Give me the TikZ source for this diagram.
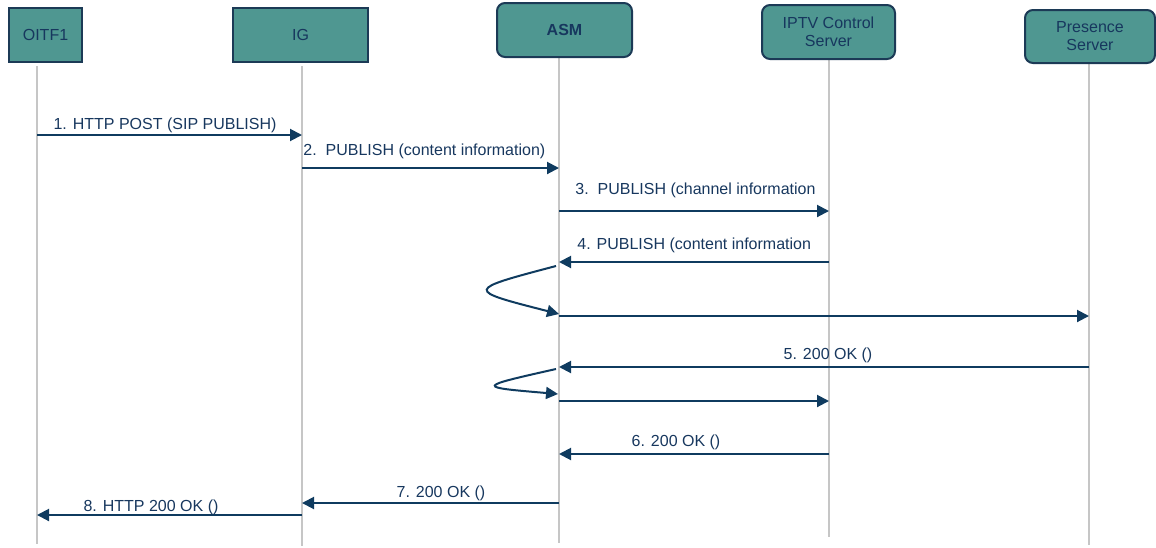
\documentclass[tikz,border=0pt]{standalone}
\usepackage{fontspec}
\setmainfont{Liberation Sans}
\usetikzlibrary{arrows.meta,calc}
\definecolor{boxfill}{HTML}{4F9791}
\definecolor{boxline}{HTML}{1C3A56}
\definecolor{txt}{HTML}{17375E}
\definecolor{arr}{HTML}{0F3B5F}
\definecolor{life}{HTML}{C6C6C6}
\begin{document}
\begin{tikzpicture}[x=0.5pt,y=-0.5pt,
 actor/.style={draw=boxline, line width=1pt, fill=boxfill, text=txt,
   font=\fontsize{8}{9}\selectfont, align=center, inner sep=0pt},
 ractor/.style={actor, rounded corners=4pt},
 lifeline/.style={draw=life, line width=0.7pt},
 msg/.style={draw=arr, line width=1pt, -{Triangle[length=6pt,width=6pt]}},
 lbl/.style={text=txt, font=\fontsize{8}{9}\selectfont, inner sep=0pt},
]
\useasboundingbox (0,0) rectangle (1156,547);

% lifelines
\coordinate (oT) at (37,66);   \coordinate (oB) at (37,544);
\coordinate (gT) at (302,66);  \coordinate (gB) at (302,546);
\coordinate (aT) at (559,58);  \coordinate (aB) at (559,543);
\coordinate (iT) at (829,55);  \coordinate (iB) at (829,537);
\coordinate (pT) at (1089,62); \coordinate (pB) at (1089,545);
\draw[lifeline] (oT) -- (oB);
\draw[lifeline] (gT) -- (gB);
\draw[lifeline] (aT) -- (aB);
\draw[lifeline] (iT) -- (iB);
\draw[lifeline] (pT) -- (pB);

% actors
\node[actor, minimum width=36.5pt, minimum height=27pt] (oitf) at (45.5,35) {OITF1};
\node[actor, minimum width=67.5pt, minimum height=27pt] (ig) at (300.5,35) {IG};
\node[ractor, minimum width=67.5pt, minimum height=27pt, font=\fontsize{8}{9}\selectfont\bfseries] (asm) at (564.5,30) {ASM};
\node[ractor, minimum width=66.5pt, minimum height=27pt] (iptv) at (828.5,32) {IPTV Control\\Server};
\node[ractor, minimum width=65pt, minimum height=26.5pt] (pres) at (1090,36.5) {Presence\\Server};

% message end points
\coordinate (m1a) at (37,135);  \coordinate (m1b) at (302,135);
\coordinate (m2a) at (302,168); \coordinate (m2b) at (559,168);
\coordinate (m3a) at (559,211); \coordinate (m3b) at (829,211);
\coordinate (m4a) at (829,262); \coordinate (m4b) at (559,262);
\coordinate (s1a) at (556,266); \coordinate (s1b) at (559,314);
\coordinate (m4c) at (559,316); \coordinate (m4d) at (1089,316);
\coordinate (m5a) at (1089,367); \coordinate (m5b) at (559,367);
\coordinate (s2a) at (556,369); \coordinate (s2b) at (558,394);
\coordinate (m5c) at (559,401); \coordinate (m5d) at (829,401);
\coordinate (m6a) at (829,454); \coordinate (m6b) at (559,454);
\coordinate (m7a) at (559,503); \coordinate (m7b) at (302,503);
\coordinate (m8a) at (302,515); \coordinate (m8b) at (37,515);

\draw[msg] (m1a) -- (m1b);
\draw[msg] (m2a) -- (m2b);
\draw[msg] (m3a) -- (m3b);
\draw[msg] (m4a) -- (m4b);
\draw[msg] (s1a) .. controls (465,290) .. (s1b);
\draw[msg] (m4c) -- (m4d);
\draw[msg] (m5a) -- (m5b);
\draw[msg] (s2a) .. controls (476,387) .. (s2b);
\draw[msg] (m5c) -- (m5d);
\draw[msg] (m6a) -- (m6b);
\draw[msg] (m7a) -- (m7b);
\draw[msg] (m8a) -- (m8b);

% labels
\node[lbl] (l1) at (165,125) {1. HTTP POST (SIP PUBLISH)};
\node[lbl, anchor=west] (l2) at (303,151) {2.\ \ PUBLISH (content information)};
\node[lbl, anchor=west] (l3) at (575,190) {3.\ \ PUBLISH (channel information};
\node[lbl, anchor=west] (l4) at (577,245) {4. PUBLISH (content information};
\node[lbl] (l5) at (828,355) {5. 200 OK ()};
\node[lbl] (l6) at (676,442) {6. 200 OK ()};
\node[lbl] (l7) at (441,493) {7. 200 OK ()};
\node[lbl] (l8) at (151,507) {8. HTTP 200 OK ()};
\end{tikzpicture}
\end{document}
